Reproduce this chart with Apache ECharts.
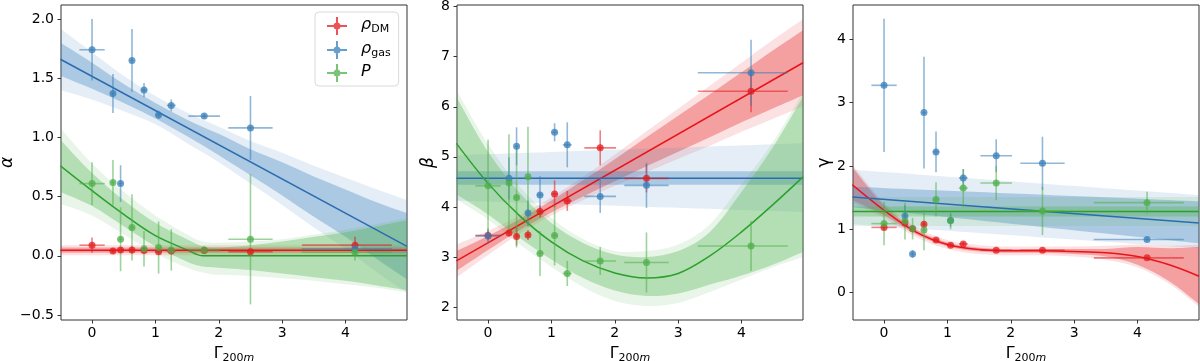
<!DOCTYPE html>
<html>
<head>
<meta charset="utf-8">
<script src="https://cdn.jsdelivr.net/npm/echarts@6/dist/echarts.min.js"></script>
<style>
  html, body { margin: 0; padding: 0; background: #fff; }
  #chart { width: 1200px; height: 361px; }
</style>
</head>
<body>
<div id="chart"></div>
<script>
// Gamma_200m bins (x) with horizontal error bars
const gam   = [0, 0.33, 0.45, 0.63, 0.82, 1.05, 1.25, 1.77, 2.5, 4.15];
const gamLo = [-0.2, 0.30, 0.42, 0.60, 0.77, 1.00, 1.18, 1.52, 2.15, 3.31];
const gamHi = [0.2, 0.36, 0.48, 0.66, 0.87, 1.10, 1.32, 2.02, 2.85, 4.73];

// panel 1: alpha
const alphaDM   = [0.09, 0.04, 0.05, 0.05, 0.045, 0.035, 0.04, 0.045, 0.035, 0.09];
const alphaDMe  = [0.065, 0.02, 0.02, 0.03, 0.02, 0.02, 0.02, 0.02, 0.02, 0.07];
const alphaGas  = [1.74, 1.37, 0.61, 1.65, 1.40, 1.19, 1.27, 1.18, 1.08, 0.06];
const alphaGasE = [0.26, 0.165, 0.155, 0.265, 0.06, 0.035, 0.05, 0.02, 0.27, 0.05];
const alphaP    = [0.61, 0.62, 0.14, 0.24, 0.06, 0.07, 0.05, 0.05, 0.14, 0.03];
const alphaPE   = [0.18, 0.19, 0.27, 0.28, 0.15, 0.22, 0.175, 0.03, 0.55, 0.07];

// panel 2: beta
const betaDM   = [3.43, 3.48, 3.41, 3.44, 3.91, 4.26, 4.12, 5.18, 4.57, 6.31];
const betaDMe  = [0.1, 0.07, 0.18, 0.1, 0.12, 0.27, 0.2, 0.35, 0.28, 0.42];
const betaGas  = [3.42, 4.57, 5.21, 3.88, 4.24, 5.49, 5.24, 4.21, 4.43, 6.68];
const betaGasE = [0.15, 0.42, 0.38, 0.25, 0.37, 0.18, 0.45, 0.33, 0.45, 0.66];
const betaP    = [4.42, 4.48, 4.19, 4.60, 3.07, 3.43, 2.67, 2.92, 2.89, 3.22];
const betaPE   = [0.92, 0.97, 1.0, 1.0, 0.45, 0.6, 0.25, 0.28, 0.6, 0.5];

// panel 3: gamma
const gammaDM   = [1.03, 1.10, 1.01, 1.08, 0.83, 0.75, 0.77, 0.67, 0.67, 0.55];
const gammaDMe  = [0.03, 0.03, 0.03, 0.04, 0.03, 0.03, 0.03, 0.02, 0.02, 0.02];
const gammaGas  = [3.27, 1.21, 0.61, 2.84, 2.22, 1.14, 1.81, 2.16, 2.04, 0.84];
const gammaGasE = [1.05, 0.17, 0.06, 0.88, 0.32, 0.1, 0.14, 0.26, 0.42, 0.03];
const gammaP    = [1.09, 1.13, 1.01, 0.99, 1.47, 1.14, 1.65, 1.73, 1.29, 1.42];
const gammaPE   = [0.34, 0.29, 0.17, 0.32, 0.27, 0.14, 0.3, 0.27, 0.38, 0.17];

// x samples for fit curves and bands
const ends = [-0.5, 4.97];
const bx = [-0.5, 0, 0.5, 1, 1.5, 2, 2.5, 3, 3.5, 4, 4.5, 4.97];
const gx = [-0.5, 0, 0.5, 1, 1.5, 1.75, 2, 2.5, 3, 3.5, 4, 4.5, 4.97];

// fits, panel 1
const alphaFitDM  = [0.048, 0.048];
const alphaFitGas = [1.66, 0.08];
const alphaFitP   = [0.76, 0.55, 0.35, 0.17, 0.05, 0, 0, 0, 0, 0, 0, 0, 0];
const alphaDMin   = [[0.025, 0.025], [0.07, 0.07]];
const alphaDMout  = [[0.005, 0.005], [0.09, 0.09]];
const alphaGasIn  = [[1.52, 1.41, 1.29, 1.16, 1.01, 0.85, 0.68, 0.51, 0.33, 0.16, -0.03, -0.2],
                     [1.80, 1.63, 1.45, 1.29, 1.15, 1.03, 0.90, 0.79, 0.67, 0.56, 0.45, 0.36]];
const alphaGasOut = [[1.40, 1.32, 1.22, 1.11, 0.95, 0.79, 0.61, 0.43, 0.24, 0.06, -0.14, -0.31],
                     [1.92, 1.72, 1.52, 1.35, 1.21, 1.09, 0.97, 0.87, 0.76, 0.66, 0.56, 0.47]];
const alphaPIn    = [[0.54, 0.42, 0.25, 0.08, -0.05, -0.09, -0.10, -0.12, -0.15, -0.18, -0.21, -0.25, -0.29],
                     [0.98, 0.70, 0.47, 0.28, 0.14, 0.08, 0.07, 0.09, 0.12, 0.16, 0.20, 0.25, 0.30]];
const alphaPOut   = [[0.44, 0.34, 0.18, 0.02, -0.10, -0.14, -0.16, -0.17, -0.19, -0.21, -0.24, -0.27, -0.31],
                     [1.08, 0.78, 0.54, 0.34, 0.18, 0.12, 0.11, 0.12, 0.14, 0.18, 0.22, 0.27, 0.32]];

// fits, panel 2
const betaFitDM  = [2.92, 6.88];
const betaFitGas = [4.57, 4.57];
const betaFitP   = [5.27, 4.47, 3.82, 3.30, 2.92, 2.68, 2.58, 2.67, 3.02, 3.50, 4.05, 4.60];
const betaDMin   = [[2.72, 3.14, 3.54, 3.89, 4.21, 4.51, 4.81, 5.10, 5.39, 5.69, 5.97, 6.23],
                    [3.12, 3.42, 3.76, 4.13, 4.53, 4.95, 5.39, 5.82, 6.25, 6.69, 7.13, 7.53]];
const betaDMout  = [[2.59, 3.04, 3.47, 3.83, 4.14, 4.42, 4.69, 4.96, 5.22, 5.50, 5.76, 6.01],
                    [3.25, 3.52, 3.83, 4.19, 4.60, 5.04, 5.51, 5.96, 6.42, 6.88, 7.34, 7.75]];
const betaGasIn  = [[4.44, 4.44], [4.71, 4.71]];
const betaGasOut = [[4.13, 3.90], [5.03, 5.27]];
const betaPIn    = [[4.25, 3.85, 3.38, 2.95, 2.58, 2.33, 2.22, 2.27, 2.45, 2.63, 2.85, 3.10],
                    [6.20, 5.10, 4.28, 3.68, 3.28, 3.05, 3.00, 3.12, 3.50, 4.30, 5.20, 6.20]];
const betaPOut   = [[4.15, 3.75, 3.25, 2.80, 2.40, 2.12, 2.02, 2.08, 2.30, 2.55, 2.80, 3.00],
                    [6.33, 5.25, 4.40, 3.78, 3.36, 3.12, 3.12, 3.25, 3.65, 4.45, 5.30, 6.30]];

// fits, panel 3
const gammaFitDM  = [1.70, 1.30, 0.96, 0.76, 0.68, 0.66, 0.66, 0.65, 0.63, 0.57, 0.44, 0.26];
const gammaFitGas = [1.51, 1.10];
const gammaFitP   = [1.28, 1.28];
const gammaDMin   = [[1.46, 1.22, 0.92, 0.73, 0.65, 0.63, 0.63, 0.61, 0.57, 0.44, 0.18, -0.18],
                     [1.98, 1.38, 1.00, 0.79, 0.71, 0.69, 0.69, 0.69, 0.69, 0.72, 0.70, 0.72]];
const gammaDMout  = [[1.42, 1.18, 0.88, 0.69, 0.61, 0.59, 0.59, 0.57, 0.52, 0.40, 0.14, -0.22],
                     [2.02, 1.42, 1.04, 0.83, 0.75, 0.73, 0.73, 0.73, 0.74, 0.76, 0.74, 0.76]];
const gammaGasIn  = [[1.35, 0.78], [1.67, 1.44]];
const gammaGasOut = [[1.08, 0.70], [1.94, 1.54]];
const gammaPIn    = [[1.20, 1.20], [1.36, 1.36]];
const gammaPOut   = [[1.05, 1.05], [1.51, 1.51]];

const RED = '#e41a1c', BLUE = '#377eb8', GREEN = '#4daf4a';
const LRED = '#e8141a', LBLUE = '#2b6cb0', LGREEN = '#2ca02c';
const FONT = 'DejaVu Sans';

function rgba(hex, a) {
  const n = parseInt(hex.slice(1), 16);
  return 'rgba(' + (n >> 16) + ',' + ((n >> 8) & 255) + ',' + (n & 255) + ',' + a + ')';
}

function renderErr(params, api) {
  const a = api.coord([api.value(2), api.value(1)]);
  const b = api.coord([api.value(3), api.value(1)]);
  const c = api.coord([api.value(0), api.value(4)]);
  const d = api.coord([api.value(0), api.value(5)]);
  const style = { stroke: api.visual('color'), lineWidth: 1.6, opacity: 0.55 };
  return {
    type: 'group',
    children: [
      { type: 'line', shape: { x1: a[0], y1: a[1], x2: b[0], y2: b[1] }, style: style },
      { type: 'line', shape: { x1: c[0], y1: c[1], x2: d[0], y2: d[1] }, style: style }
    ]
  };
}

function points(gi, name, ys, es, color) {
  return [
    {
      type: 'custom', name: 'err-' + name, xAxisIndex: gi, yAxisIndex: gi,
      renderItem: renderErr, clip: true, silent: true, z: 4,
      itemStyle: { color: color },
      encode: { x: 0, y: 1 },
      data: gam.map((x, i) => [x, ys[i], gamLo[i], gamHi[i], ys[i] - es[i], ys[i] + es[i]])
    },
    {
      type: 'scatter', name: name, xAxisIndex: gi, yAxisIndex: gi,
      symbolSize: 7, z: 5, silent: true,
      itemStyle: { color: color, opacity: 0.75 },
      data: gam.map((x, i) => [x, ys[i]])
    }
  ];
}

// catmull-rom through pixel points, as cubic segments
function curve(pts) {
  let d = '';
  const n = pts.length;
  for (let i = 0; i < n - 1; i++) {
    const p0 = pts[Math.max(i - 1, 0)], p1 = pts[i], p2 = pts[i + 1], p3 = pts[Math.min(i + 2, n - 1)];
    const c1 = [p1[0] + (p2[0] - p0[0]) / 6, p1[1] + (p2[1] - p0[1]) / 6];
    const c2 = [p2[0] - (p3[0] - p1[0]) / 6, p2[1] - (p3[1] - p1[1]) / 6];
    d += 'C' + c1[0] + ',' + c1[1] + ' ' + c2[0] + ',' + c2[1] + ' ' + p2[0] + ',' + p2[1];
  }
  return d;
}

function band(gi, xs, lohi, color, alpha) {
  const lo = lohi[0], hi = lohi[1];
  return {
    type: 'custom', xAxisIndex: gi, yAxisIndex: gi, clip: true, silent: true, z: 1,
    encode: { x: 0, y: 1 },
    data: xs.map((x, i) => [x, lo[i], hi[i]]),
    renderItem: function (params, api) {
      if (params.dataIndex !== 0) return;
      const top = xs.map((x, i) => api.coord([x, hi[i]]));
      const bot = xs.map((x, i) => api.coord([x, lo[i]])).reverse();
      const d = 'M' + top[0][0] + ',' + top[0][1] + curve(top) +
                'L' + bot[0][0] + ',' + bot[0][1] + curve(bot) + 'Z';
      return { type: 'path', shape: { pathData: d }, style: { fill: rgba(color, alpha) } };
    }
  };
}

function fit(gi, xs, ys, color) {
  return {
    type: 'line', xAxisIndex: gi, yAxisIndex: gi, symbol: 'none', smooth: 0.35,
    silent: true, z: 3, lineStyle: { color: color, width: 1.5 },
    data: xs.map((x, i) => [x, ys[i]])
  };
}

const OUT = 0.13, IN = 0.33;
const series = [].concat(
  // panel 1
  band(0, ends, alphaDMout, RED, OUT), band(0, ends, alphaDMin, RED, IN),
  band(0, bx, alphaGasOut, BLUE, OUT), band(0, bx, alphaGasIn, BLUE, IN),
  band(0, gx, alphaPOut, GREEN, OUT), band(0, gx, alphaPIn, GREEN, IN),
  fit(0, ends, alphaFitGas, LBLUE), fit(0, gx, alphaFitP, LGREEN), fit(0, ends, alphaFitDM, LRED),
  points(0, 'rhoDM', alphaDM, alphaDMe, RED),
  points(0, 'rhoGas', alphaGas, alphaGasE, BLUE),
  points(0, 'P', alphaP, alphaPE, GREEN),
  // panel 2
  band(1, bx, betaDMout, RED, OUT), band(1, bx, betaDMin, RED, IN),
  band(1, ends, betaGasOut, BLUE, OUT), band(1, ends, betaGasIn, BLUE, IN),
  band(1, bx, betaPOut, GREEN, OUT), band(1, bx, betaPIn, GREEN, IN),
  fit(1, ends, betaFitDM, LRED), fit(1, ends, betaFitGas, LBLUE), fit(1, bx, betaFitP, LGREEN),
  points(1, 'rhoDM', betaDM, betaDMe, RED),
  points(1, 'rhoGas', betaGas, betaGasE, BLUE),
  points(1, 'P', betaP, betaPE, GREEN),
  // panel 3
  band(2, bx, gammaDMout, RED, OUT), band(2, bx, gammaDMin, RED, IN),
  band(2, ends, gammaGasOut, BLUE, OUT), band(2, ends, gammaGasIn, BLUE, IN),
  band(2, ends, gammaPOut, GREEN, OUT), band(2, ends, gammaPIn, GREEN, IN),
  fit(2, bx, gammaFitDM, LRED), fit(2, ends, gammaFitGas, LBLUE), fit(2, ends, gammaFitP, LGREEN),
  points(2, 'rhoDM', gammaDM, gammaDMe, RED),
  points(2, 'rhoGas', gammaGas, gammaGasE, BLUE),
  points(2, 'P', gammaP, gammaPE, GREEN)
);

const xTicks = [0, 1, 2, 3, 4];
const yTicks = [[-0.5, 0, 0.5, 1, 1.5, 2], [2, 3, 4, 5, 6, 7, 8], [0, 1, 2, 3, 4]];
const yRange = [[-0.542, 2.118], [1.74, 8.034], [-0.43, 4.536]];
const yNames = ['α', 'β', 'γ'];
const yGaps = [45, 20, 19];
const lefts = [61, 457, 853];

const subRich = {
  g: { fontSize: 16, lineHeight: 18, verticalAlign: 'top', fontFamily: FONT, color: '#000' },
  s: { fontSize: 11, lineHeight: 12, padding: [8, 0, 0, 0], verticalAlign: 'bottom', fontFamily: FONT, color: '#000' },
  m: { fontSize: 11, lineHeight: 12, padding: [8, 0, 0, 0], verticalAlign: 'bottom', fontFamily: FONT, fontStyle: 'italic', color: '#000' }
};

const option = {
  animation: false,
  textStyle: { fontFamily: FONT },
  grid: lefts.map(l => ({
    left: l, top: 5, width: 346, height: 315, containLabel: false, outerBoundsMode: 'none',
    show: true, borderColor: '#333', borderWidth: 1
  })),
  xAxis: lefts.map((l, i) => ({
    type: 'value', gridIndex: i, min: -0.49, max: 4.97,
    axisLine: { show: false, onZero: false }, splitLine: { show: false },
    axisTick: { show: true, length: 3.5, customValues: xTicks, lineStyle: { color: '#333' } },
    axisLabel: { customValues: xTicks, margin: 6, fontSize: 14, color: '#000', fontFamily: FONT },
    name: '{g|Γ}{s|200}{m|m}', nameLocation: 'middle', nameGap: 15,
    nameTextStyle: { rich: subRich }
  })),
  yAxis: lefts.map((l, i) => ({
    type: 'value', gridIndex: i, min: yRange[i][0], max: yRange[i][1],
    axisLine: { show: false, onZero: false }, splitLine: { show: false },
    axisTick: { show: true, length: 3.5, customValues: yTicks[i], lineStyle: { color: '#333' } },
    axisLabel: {
      customValues: yTicks[i], margin: 7, fontSize: 14, color: '#000', fontFamily: FONT,
      formatter: v => (i === 0 ? v.toFixed(1) : String(v)).replace('-', '−')
    },
    name: yNames[i], nameLocation: 'middle', nameGap: yGaps[i], nameRotate: 90,
    nameTextStyle: { fontSize: 17, color: '#000', fontFamily: FONT, fontStyle: i === 2 ? 'normal' : 'italic' }
  })),
  legend: {
    data: ['rhoDM', 'rhoGas', 'P'],
    orient: 'vertical', left: 315, top: 12,
    padding: [4, 8, 4, 12], itemGap: 5, itemWidth: 20, itemHeight: 18,
    borderColor: '#d9d9d9', borderWidth: 1, borderRadius: 4,
    icon: 'path://M0,8H20V10H0Z M9,0H11V18H9Z M6.5,9A3.5,3.5 0 1,1 13.5,9A3.5,3.5 0 1,1 6.5,9Z',
    formatter: name => ({ rhoDM: '{r|ρ}{s|DM}', rhoGas: '{r|ρ}{s|gas}', P: '{r|P}' })[name],
    textStyle: {
      rich: {
        r: { fontSize: 16, lineHeight: 18, fontStyle: 'italic', fontFamily: FONT, color: '#000', padding: [0, 0, 0, 9], verticalAlign: 'top' },
        s: { fontSize: 11, lineHeight: 12, padding: [8, 0, 0, 0], verticalAlign: 'bottom', fontFamily: FONT, color: '#000' }
      }
    }
  },
  series: series
};

const chart = echarts.init(document.getElementById('chart'));
chart.setOption(option);
</script>
</body>
</html>
